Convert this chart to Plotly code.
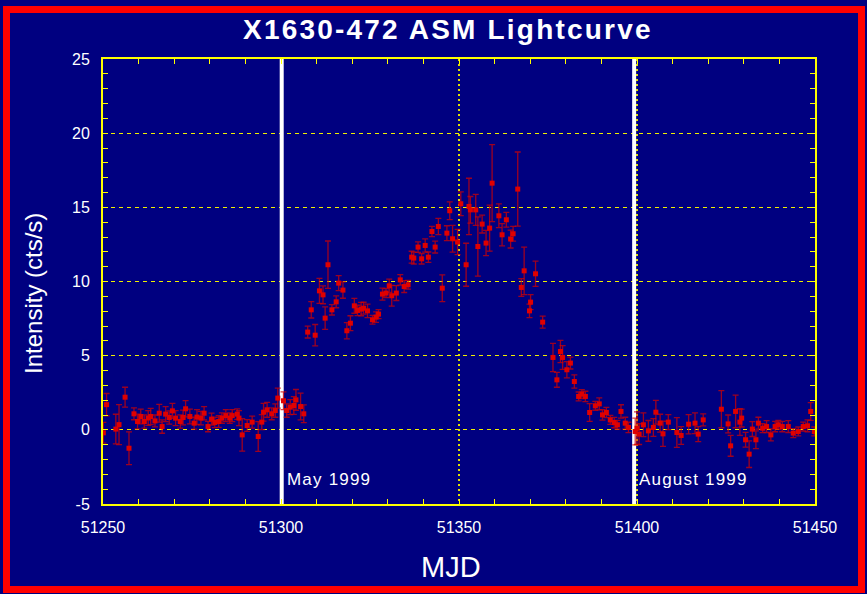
import plotly.graph_objects as go

# ASM daily-average light curve of X1630-472 (MJD, rate in cts/s, 1-sigma error)
mjd = [
    51250.1, 51251.0, 51253.6, 51254.5, 51256.2, 51257.3, 51258.7, 51259.7, 51260.6, 51261.6,
    51262.7, 51263.4, 51264.6, 51265.8, 51266.6, 51267.6, 51268.6, 51269.5, 51270.4, 51271.7,
    51272.5, 51273.2, 51274.4, 51275.6, 51276.4, 51277.5, 51278.4, 51279.5, 51280.5, 51281.4,
    51282.5, 51283.4, 51284.5, 51285.6, 51286.3, 51287.7, 51288.2, 51289.1, 51290.5, 51291.9,
    51293.6, 51294.6, 51295.1, 51296.1, 51297.4, 51298.4, 51299.1, 51300.7, 51301.6, 51302.6,
    51303.6, 51304.2, 51305.5, 51306.4,
    51307.5, 51308.5, 51309.6, 51310.8, 51311.8, 51312.4, 51313.2, 51314.3, 51315.5, 51316.2,
    51317.4, 51318.5, 51319.5, 51320.6, 51321.5, 51322.5, 51323.2, 51324.3, 51325.7, 51326.7,
    51327.4, 51328.5, 51329.5, 51330.4, 51331.1, 51332.4, 51333.5, 51334.6, 51335.7, 51336.7,
    51337.3, 51338.5, 51339.5, 51340.5, 51341.4, 51342.4, 51343.3, 51344.2, 51345.3, 51346.6,
    51347.4, 51348.2, 51349.6, 51350.5, 51352.0, 51352.8, 51353.2, 51354.7, 51355.3, 51356.5,
    51357.6, 51358.6, 51359.3, 51361.2, 51362.1, 51363.3, 51364.5, 51365.2, 51366.5, 51367.5,
    51368.3, 51369.8, 51370.1, 51371.5, 51373.5, 51376.4, 51377.5, 51378.5, 51379.1, 51380.3,
    51381.3, 51382.4, 51383.6, 51384.5, 51385.5, 51386.7, 51388.3, 51389.4, 51390.3, 51391.4,
    51392.5, 51393.6, 51394.5, 51395.5, 51396.7, 51397.6, 51399.5,
    51400.0, 51400.6, 51401.8, 51403.2, 51404.6, 51405.3, 51406.5, 51407.3, 51408.8, 51411.2,
    51412.4, 51414.5, 51416.3, 51417.2, 51418.6, 51423.7, 51425.6, 51426.3, 51427.7, 51428.9,
    51429.4, 51430.5, 51431.5, 51432.4, 51433.4, 51434.1, 51435.3, 51436.4, 51437.6, 51438.8,
    51439.7, 51440.8, 51442.5, 51443.9, 51445.3, 51446.7, 51447.9, 51448.8, 51449.8,
]

rate = [
    -0.20, 1.70, 0.05, 0.35, 2.20, -1.24, 1.08, 0.56, 0.90, 0.56,
    0.80, 0.90, 0.60, 1.12, 0.22, 1.06, 0.83, 1.28, 0.79, 0.56,
    0.83, 1.42, 0.90, 0.45, 0.86, 0.79, 1.12, 0.22, 0.72, 0.50,
    0.56, 0.79, 0.96, 0.79, 0.96, 1.06, 0.79, -0.34, 0.29, 0.52,
    -0.45, 0.52, 1.19, 1.35, 1.08, 1.30, 2.14, 1.96, 1.30, 1.53,
    1.64, 2.02, 1.57, 1.08,
    6.59, 8.09, 6.38, 9.37, 9.10, 7.53, 11.13, 8.09, 8.63, 9.89,
    9.42, 6.68, 7.19, 8.36, 8.05, 8.14, 8.20, 8.02, 7.42, 7.60,
    7.80, 9.15, 9.22, 9.71, 9.04, 9.22, 10.11, 9.66, 9.78, 11.64,
    11.58, 12.32, 11.53, 12.43, 11.64, 13.37, 12.32, 13.71, 9.55, 13.26,
    14.77, 12.88, 12.66, 15.24, 11.13, 15.06, 14.83, 14.83, 12.36, 13.87,
    12.59, 13.60, 16.63, 14.43, 13.15, 14.16, 12.86, 13.22, 16.23, 9.60,
    10.72, 8.02, 8.61, 10.52, 7.26, 4.88, 3.37, 5.28, 4.88, 4.05,
    4.50, 3.26, 2.25, 2.41, 2.25, 1.17, 1.62, 1.75, 1.01, 1.17,
    0.67, 0.49, 0.34, 1.24, 0.45, 0.16, -0.11,
    0.11, -0.29, 0.34, -0.07, 0.16, 1.19, 0.45, -0.27, 0.52, -0.18,
    -0.38, 0.38, 0.45, -0.29, 0.67, 1.39, 0.40, -1.08, 1.24, 0.52,
    0.79, -0.67, -1.64, 0.05, -0.67, 0.45, 0.11, 0.22, -0.34, 0.22,
    0.34, 0.22, 0.22, -0.22, -0.11, 0.22, 0.27, 1.24, -0.11,
]

rate_err = [
    0.70, 0.75, 1.00, 1.35, 0.67, 1.10, 0.40, 0.50, 0.50, 0.45,
    0.50, 0.55, 0.40, 0.60, 0.45, 0.50, 0.45, 0.50, 0.50, 0.45,
    0.50, 0.55, 0.50, 0.40, 0.50, 0.45, 0.45, 0.35, 0.40, 0.35,
    0.40, 0.35, 0.40, 0.35, 0.40, 0.35, 0.50, 1.10, 0.40, 0.40,
    1.00, 0.50, 0.60, 0.50, 0.40, 0.45, 0.67, 0.60, 0.45, 0.50,
    0.60, 0.70, 0.90, 0.60,
    0.40, 0.55, 0.72, 0.84, 0.60, 0.76, 1.60, 0.35, 0.40, 0.50,
    0.55, 0.55, 0.50, 0.50, 0.35, 0.45, 0.40, 0.45, 0.30, 0.35,
    0.30, 0.40, 0.30, 0.45, 0.70, 0.50, 0.35, 0.40, 0.30, 0.40,
    0.40, 0.35, 0.35, 0.45, 0.35, 0.35, 0.40, 0.55, 0.90, 0.50,
    0.60, 0.90, 0.85, 0.80, 1.45, 1.90, 0.90, 1.05, 2.00, 0.60,
    0.85, 1.55, 2.60, 0.80, 0.75, 0.50, 0.60, 0.50, 2.50, 0.60,
    1.60, 0.45, 0.50, 0.85, 0.40, 0.95, 0.50, 0.75, 0.80, 0.55,
    0.40, 0.45, 0.30, 0.30, 0.35, 0.60, 0.30, 0.40, 0.35, 0.35,
    0.30, 0.35, 0.30, 0.45, 0.40, 0.35, 0.90,
    1.10, 0.70, 0.80, 0.70, 0.60, 0.80, 0.60, 0.85, 0.50, 1.00,
    0.60, 0.65, 0.70, 0.50, 0.40, 1.25, 0.60, 0.70, 1.10, 0.90,
    0.60, 0.50, 0.90, 0.50, 0.60, 0.40, 0.30, 0.40, 0.40, 0.35,
    0.30, 0.35, 0.40, 0.30, 0.30, 0.30, 0.40, 0.60, 0.30,
]

# Calendar markers (start of May and August 1999)
month_mjd = [51300.2, 51399.2]
month_labels = ["May 1999", "August 1999"]

x_ticks = [51250, 51300, 51350, 51400, 51450]
y_ticks = [-5, 0, 5, 10, 15, 20, 25]

W, H = 867, 594
L, R, T, B = 103, 52, 59, 90
NAVY = "#000080"
YELLOW = "#ffff00"
FONT = "Liberation Sans, Arial, sans-serif"

fig = go.Figure()

fig.add_trace(go.Scatter(
    x=mjd, y=rate, mode="markers",
    marker=dict(symbol="square", size=5, color="#e00000", line=dict(width=0)),
    error_y=dict(type="data", array=rate_err, visible=True,
                 color="rgba(210,0,0,0.75)", thickness=1.3, width=3),
    showlegend=False,
))

# Vertical month boundaries, drawn over the grid but under the data
for m in month_mjd:
    fig.add_shape(type="line", xref="x", yref="y", x0=m, x1=m, y0=-5, y1=25,
                  line=dict(color="white", width=4), layer="between")

for m, lab in zip(month_mjd, month_labels):
    fig.add_annotation(x=m, y=-3.35, xref="x", yref="y",
                       text=f'<span style="letter-spacing:1.2px">{lab}</span>',
                       showarrow=False, xanchor="left", yanchor="middle", xshift=3,
                       font=dict(family=FONT, size=17, color="white"))

pw = W - L - R
ph = H - T - B


def px_x(p):
    return (p - L) / pw


def px_y(p):
    return (H - B - p) / ph


# Red outer frame
fig.add_shape(type="rect", xref="paper", yref="paper",
              x0=px_x(6.5), x1=px_x(861.5), y0=px_y(589.5), y1=px_y(9.5),
              line=dict(color="#ff0000", width=7), fillcolor="rgba(0,0,0,0)",
              layer="above")

# Title and axis titles
fig.add_annotation(xref="paper", yref="paper", x=px_x(448), y=px_y(30),
                   text='<span style="letter-spacing:2.2px"><b>X1630-472 ASM Lightcurve</b></span>',
                   showarrow=False, xanchor="center", yanchor="middle",
                   font=dict(family=FONT, size=28, color="white"))
fig.add_annotation(xref="paper", yref="paper", x=px_x(451), y=px_y(567),
                   text="MJD", showarrow=False, xanchor="center", yanchor="middle",
                   font=dict(family=FONT, size=29, color="white"))
fig.add_annotation(xref="paper", yref="paper", x=px_x(33), y=px_y(294),
                   text="Intensity (cts/s)", textangle=-90, showarrow=False,
                   xanchor="center", yanchor="middle",
                   font=dict(family=FONT, size=24, color="white"))

fig.update_layout(
    width=W, height=H,
    margin=dict(l=L, r=R, t=T, b=B, pad=0),
    paper_bgcolor=NAVY, plot_bgcolor=NAVY,
    font=dict(family=FONT, color="white"),
)

fig.update_xaxes(
    range=[51250, 51450], tickvals=x_ticks, ticktext=[str(v) for v in x_ticks],
    showline=True, linecolor=YELLOW, linewidth=2, mirror="ticks",
    ticks="inside", ticklen=5, tickcolor=YELLOW, tickwidth=1,
    minor=dict(dtick=10, ticks="inside", ticklen=5, tickcolor=YELLOW, showgrid=False),
    showgrid=True, gridcolor="#e0e000", gridwidth=2, griddash="2px,3px",
    zeroline=False, tickfont=dict(family=FONT, size=16, color="white"),
    ticklabelstandoff=8,
)
fig.update_yaxes(
    range=[-5, 25], tickvals=y_ticks, ticktext=[str(v) for v in y_ticks],
    showline=True, linecolor=YELLOW, linewidth=2, mirror="ticks",
    ticks="inside", ticklen=5, tickcolor=YELLOW, tickwidth=1,
    minor=dict(dtick=1, ticks="inside", ticklen=5, tickcolor=YELLOW, showgrid=False),
    showgrid=True, gridcolor="#f0f000", gridwidth=1, griddash="4px,4px",
    zeroline=False, tickfont=dict(family=FONT, size=16, color="white"),
    ticklabelstandoff=8,
)

fig.write_html("out.html")
